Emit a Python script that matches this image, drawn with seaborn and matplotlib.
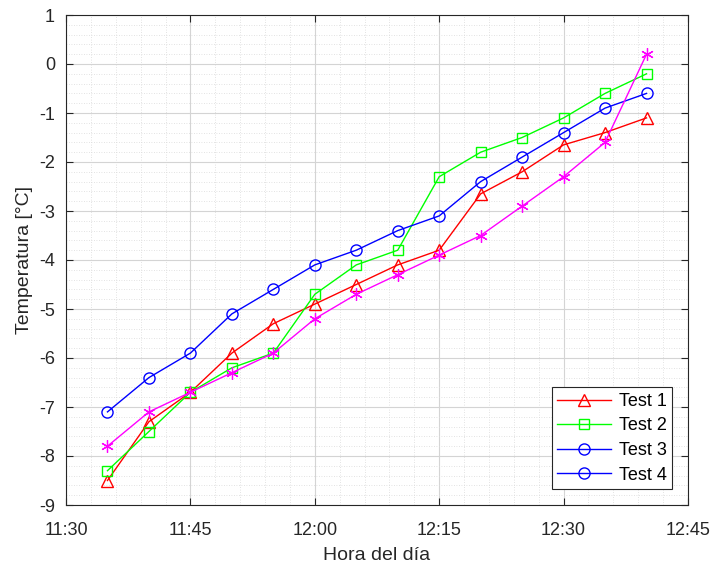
import matplotlib
matplotlib.use("Agg")
import matplotlib.pyplot as plt
import seaborn as sns
import pandas as pd
from matplotlib.lines import Line2D
from matplotlib.ticker import MultipleLocator, FixedLocator

# ---- data ----
times = ["11:35", "11:40", "11:45", "11:50", "11:55", "12:00", "12:05",
         "12:10", "12:15", "12:20", "12:25", "12:30", "12:35", "12:40"]
test1 = [-8.5, -7.3, -6.7, -5.9, -5.3, -4.9, -4.5, -4.1, -3.8, -2.65, -2.2, -1.65, -1.4, -1.1]
test2 = [-8.3, -7.5, -6.7, -6.2, -5.9, -4.7, -4.1, -3.8, -2.3, -1.8, -1.5, -1.1, -0.6, -0.2]
test3 = [-7.1, -6.4, -5.9, -5.1, -4.6, -4.1, -3.8, -3.4, -3.1, -2.4, -1.9, -1.4, -0.9, -0.6]
test4 = [-7.8, -7.1, -6.7, -6.3, -5.9, -5.2, -4.7, -4.3, -3.9, -3.5, -2.9, -2.3, -1.6, 0.2]
series_names = ["Test 1", "Test 2", "Test 3", "Test 4"]
xtick_labels = ["11:30", "11:45", "12:00", "12:15", "12:30", "12:45"]
ytick_values = [-9, -8, -7, -6, -5, -4, -3, -2, -1, 0, 1]


def to_min(s):
    h, m = s.split(":")
    return int(h) * 60 + int(m)


x = [to_min(t) for t in times]
xticks = [to_min(t) for t in xtick_labels]

df = pd.DataFrame({"x": x * 4,
                   "y": test1 + test2 + test3 + test4,
                   "serie": sum([[n] * len(x) for n in series_names], [])})

styles = {
    "Test 1": dict(color="#ff0000", marker="^", ms=8.5, mew=1.0),
    "Test 2": dict(color="#00ff00", marker="s", ms=7, mew=1.0),
    "Test 3": dict(color="#0000ff", marker="o", ms=8, mew=1.0),
    "Test 4": dict(color="#ff00ff", marker=(6, 2, 0), ms=9, mew=0.9),
}

plt.rcParams["font.family"] = ["Liberation Sans", "DejaVu Sans"]

fig = plt.figure(figsize=(7.15, 5.64), dpi=100)
ax = fig.add_axes([66 / 715, 1 - 505 / 564, (688 - 66) / 715, (505 - 15) / 564])

for name in series_names:
    st = styles[name]
    sub = df[df["serie"] == name]
    sns.lineplot(data=sub, x="x", y="y", ax=ax, color=st["color"], linewidth=1.0,
                 marker=st["marker"], markersize=st["ms"], markerfacecolor="none",
                 markeredgecolor=st["color"], markeredgewidth=st["mew"], legend=False,
                 zorder=3)

ax.set_xlim(xticks[0], xticks[-1])
ax.set_ylim(ytick_values[0], ytick_values[-1])
ax.xaxis.set_major_locator(FixedLocator(xticks))
ax.set_xticklabels(xtick_labels)
ax.xaxis.set_minor_locator(MultipleLocator(3))
ax.set_yticks(ytick_values)
ax.set_yticklabels([str(v) for v in ytick_values])
ax.yaxis.set_minor_locator(MultipleLocator(0.2))

ax.grid(True, which="major", color="#d4d4d4", linewidth=0.8, linestyle="-")
ax.grid(True, which="minor", color="#d9d9d9", linewidth=0.6, linestyle=(0, (1, 2)))
ax.set_axisbelow(True)

ax.tick_params(which="major", direction="in", length=5, width=0.8, top=True, right=True,
               colors="#262626", labelsize=13)
ax.tick_params(axis="x", which="major", pad=12)
ax.tick_params(axis="y", which="major", pad=8)
ax.tick_params(which="minor", length=0, top=True, right=True)
for sp in ax.spines.values():
    sp.set_color("#262626")
    sp.set_linewidth(0.8)

ax.set_xlabel("Hora del día", fontsize=14, color="#262626", labelpad=6)
ax.set_ylabel("Temperatura [°C]", fontsize=14, color="#262626", labelpad=4)

# legend as drawn in the reference (Test 4 entry shown with blue circle)
leg_styles = [("#ff0000", "^", 8.5), ("#00ff00", "s", 7), ("#0000ff", "o", 8), ("#0000ff", "o", 8)]
handles = [Line2D([], [], color=c, marker=m, markersize=s, markerfacecolor="none",
                  markeredgecolor=c, markeredgewidth=1.0, linewidth=1.0)
           for c, m, s in leg_styles]
leg = ax.legend(handles, series_names, loc="lower right", fontsize=13, frameon=True,
                fancybox=False, framealpha=1, edgecolor="#262626", borderpad=0.3,
                handlelength=3.0, labelspacing=0.42, handletextpad=0.4,
                borderaxespad=0, bbox_to_anchor=(1 - 16 / 622, 16 / 490))
leg.get_frame().set_linewidth(0.8)

fig.savefig("out.png", dpi=100)
